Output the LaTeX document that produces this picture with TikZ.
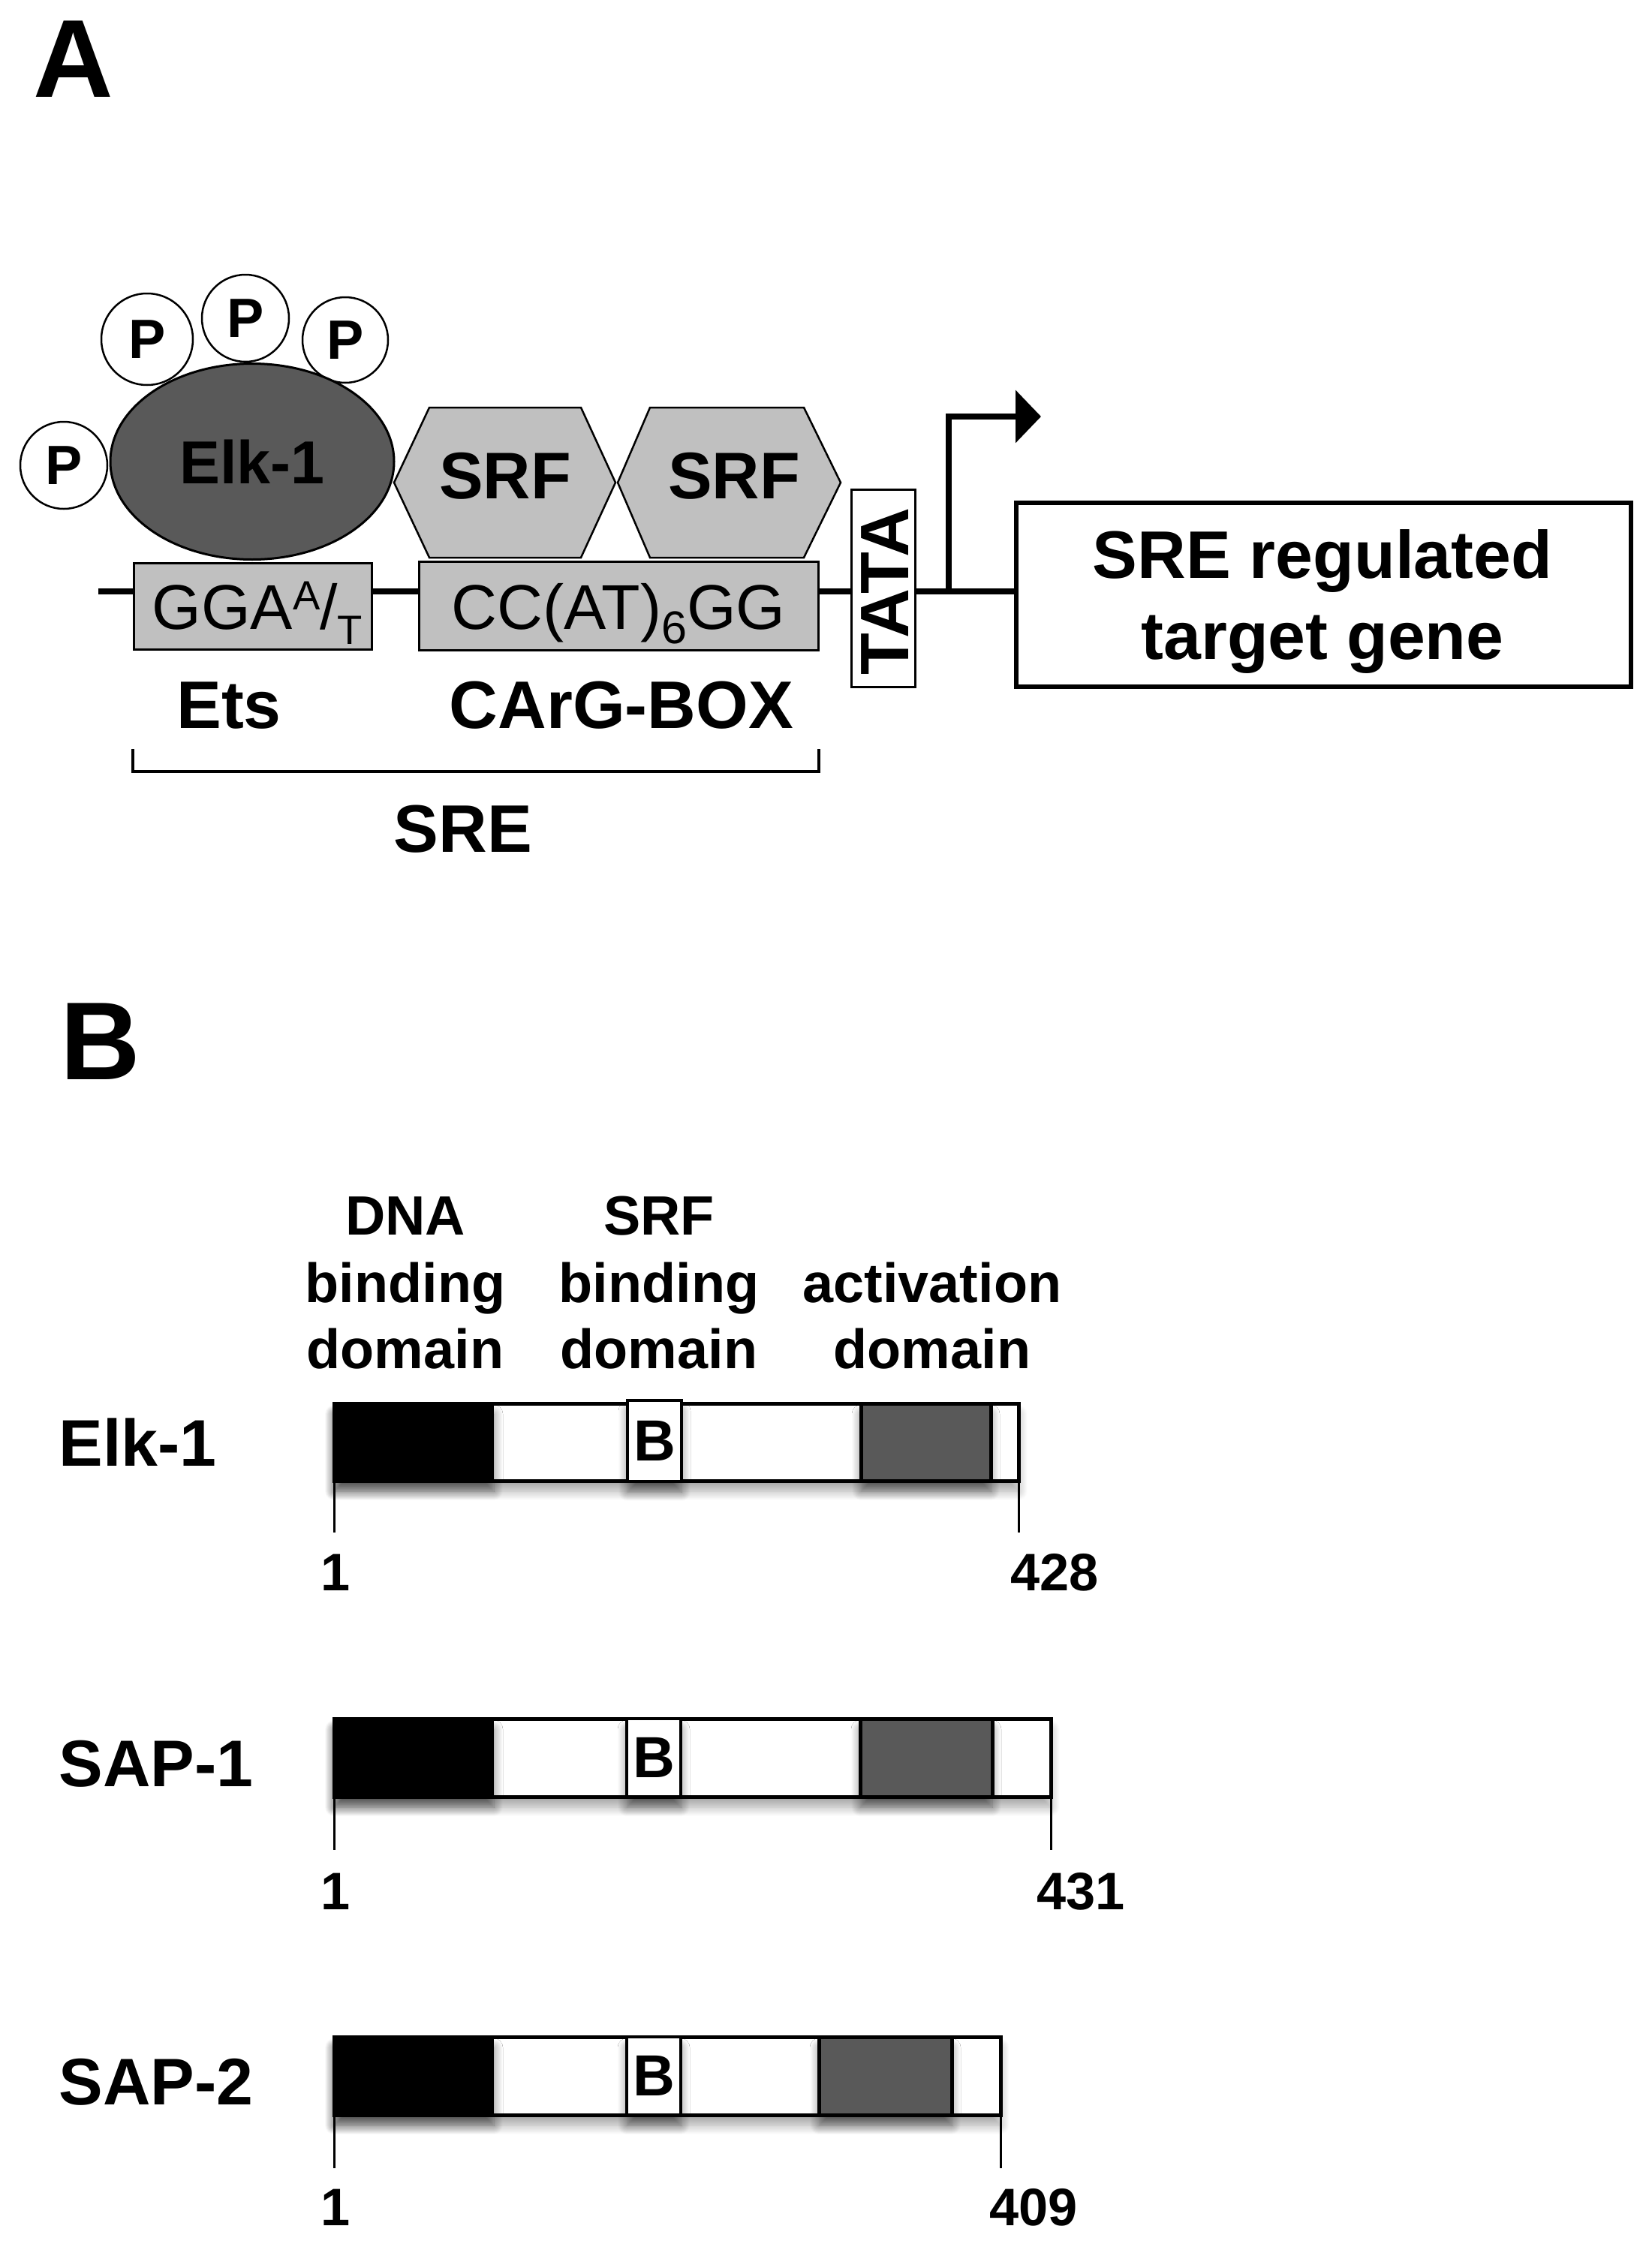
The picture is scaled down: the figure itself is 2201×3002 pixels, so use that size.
\documentclass[tikz,border=0pt]{standalone}
\usepackage{fontspec}
\setmainfont{Liberation Sans}
\usetikzlibrary{arrows.meta,shapes.geometric,shadows.blur}
\definecolor{dgray}{RGB}{89,89,89}
\definecolor{lgray}{RGB}{192,192,192}
\newcommand\fsz[1]{\fontsize{#1}{#1}\selectfont}
\begin{document}
\begin{tikzpicture}[x=0.1mm,y=-0.1mm,
  panel/.style={font=\fsz{42}\bfseries,anchor=base,inner sep=0},
  pcirc/.style={circle,draw,fill=white,line width=0.25mm,inner sep=0,font=\fsz{21}\bfseries},
  hexa/.style={draw,fill=lgray,line width=0.25mm},
  gbox/.style={draw,fill=lgray,line width=0.3mm,inner sep=0},
  seqtxt/.style={font=\fsz{24},anchor=base,inner sep=0},
  bigtxt/.style={font=\fsz{25.5}\bfseries,anchor=base,inner sep=0},
  dna/.style={line width=0.75mm},
  dom/.style={font=\fsz{21}\bfseries,anchor=base,inner sep=0},
  num/.style={font=\fsz{20}\bfseries,anchor=base,inner sep=0},
  prot/.style={font=\fsz{25}\bfseries,anchor=west,inner sep=0},
  barline/.style={line width=0.5mm},
  tick/.style={line width=0.3mm},
  bbox/.style={draw,fill=white,line width=0.45mm,inner sep=0,minimum width=7.2mm,font=\fsz{22}\bfseries},
  shad/.style={blur shadow={shadow xshift=0mm,shadow yshift=-1.4mm,shadow opacity=35,shadow blur steps=12,shadow blur radius=1.2mm}},
  shadk/.style={blur shadow={shadow xshift=0mm,shadow yshift=-1.4mm,shadow opacity=50,shadow blur steps=12,shadow blur radius=1.2mm}}
]
\useasboundingbox (0,0) rectangle (2201,3002);

% ---------------- Panel A ----------------
\node[panel] (labA) at (98,129) {A};

% DNA backbone
\coordinate (dnaL) at (131,788);
\node[draw,fill=white,line width=0.3mm,minimum width=8.5mm,minimum height=26.3mm,inner sep=0] (tata) at (1176.5,783.5) {};
\node[draw,line width=0.6mm,minimum width=81.9mm,minimum height=24.5mm,inner sep=0] (gene) at (1763.5,792.5) {};
\draw[dna] (dnaL) -- (dnaL -| tata.west);
\draw[dna] (dnaL -| tata.east) -- (dnaL -| gene.west);
\node[rotate=90,font=\fsz{26}\bfseries,inner sep=0] (tatatxt) at (1179,788) {TATA};

% transcription start arrow
\coordinate (tss) at (1264,788);
\coordinate (arrEnd) at (1387,555);
\draw[dna,-{Triangle[length=3.4mm,width=6.9mm]}] (tss) |- (arrEnd);

% gene text
\node[bigtxt] (gene1) at (1762,770) {SRE regulated};
\node[bigtxt] (gene2) at (1762,878) {target gene};

% sequence boxes
\node[gbox,minimum width=31.7mm,minimum height=11.5mm] (etsbox) at (336.5,807.5) {};
\node[gbox,minimum width=53.2mm,minimum height=11.8mm] (cargbox) at (824,807) {};
\node[seqtxt] (etsseq) at (343,838) {GGA\raisebox{2.6mm}{\fsz{15.5}A}/\raisebox{-2mm}{\fsz{15.5}T}};
\node[seqtxt] (cargseq) at (824,838) {CC(AT)\raisebox{-1.9mm}{\fsz{17.4}6}GG};

% phosphates
\node[pcirc,minimum size=11.6mm] (p1) at (85,620) {P};
\node[pcirc,minimum size=12.2mm] (p2) at (196,452) {P};
\node[pcirc,minimum size=11.6mm] (p3) at (327,424) {P};
\node[pcirc,minimum size=11.4mm] (p4) at (460,453) {P};

% Elk-1
\node[ellipse,draw,fill=dgray,line width=0.3mm,minimum width=37.8mm,minimum height=26.1mm,inner sep=0,font=\fsz{23}\bfseries] (elk) at (336,615) {Elk-1};

% SRF dimer
\draw[hexa] (572,543) -- (774,543) -- (820,643) -- (774,743) -- (572,743) -- (525,643) -- cycle;
\draw[hexa] (866,543) -- (1071,543) -- (1120,643) -- (1071,743) -- (866,743) -- (823,643) -- cycle;
\node[font=\fsz{25}\bfseries,inner sep=0] (srf1) at (673,634) {SRF};
\node[font=\fsz{25}\bfseries,inner sep=0] (srf2) at (978,634) {SRF};

% labels
\node[bigtxt] (ets) at (305,970) {Ets};
\node[bigtxt] (carg) at (828,970) {CArG-BOX};
\coordinate (brL) at (177,998);
\coordinate (brR) at (1091,998);
\draw[line width=0.45mm] (brL) -- ++(0,30) -| (brR);
\node[bigtxt] (sre) at (617,1135) {SRE};

% ---------------- Panel B ----------------
\node[panel] (labB) at (134,1438) {B};

\node[dom] (d1a) at (540,1645) {DNA};
\node[dom] (d1b) at (540,1735) {binding};
\node[dom] (d1c) at (540,1823) {domain};
\node[dom] (d2a) at (878,1645) {SRF};
\node[dom] (d2b) at (878,1735) {binding};
\node[dom] (d2c) at (878,1823) {domain};
\node[dom] (d3b) at (1242,1735) {activation};
\node[dom] (d3c) at (1242,1823) {domain};

% Elk-1 bar
\node[prot] (lelk) at (78,1922) {Elk-1};
\fill[white,shad] (445,1870) rectangle (1357,1973);
\fill[black,shadk] (445,1870) rectangle (658,1973);
\draw[barline,fill=dgray,shadk] (1147,1870) rectangle (1320,1973);
\draw[barline] (445,1870) rectangle (1357,1973);
\node[bbox,minimum height=10.8mm,shadk] (belk) at (872,1920) {B};
\draw[tick] (445,1973) -- (445,2042);
\draw[tick] (1357,1973) -- (1357,2042);
\node[num] (elk1) at (447,2119) {1};
\node[num] (elk428) at (1405,2119) {428};

% SAP-1 bar
\node[prot] (lsap1) at (78,2350) {SAP-1};
\fill[white,shad] (445,2290) rectangle (1400,2394);
\fill[black,shadk] (445,2290) rectangle (658,2394);
\draw[barline,fill=dgray,shadk] (1146,2290) rectangle (1322,2394);
\draw[barline] (445,2290) rectangle (1400,2394);
\node[bbox,minimum height=10.4mm,shadk] (bsap1) at (871,2342) {B};
\draw[tick] (445,2394) -- (445,2465);
\draw[tick] (1400,2394) -- (1400,2465);
\node[num] (sap1a) at (447,2544) {1};
\node[num] (sap1b) at (1440,2544) {431};

% SAP-2 bar
\node[prot] (lsap2) at (78,2774) {SAP-2};
\fill[white,shad] (445,2714) rectangle (1333,2818);
\fill[black,shadk] (445,2714) rectangle (658,2818);
\draw[barline,fill=dgray,shadk] (1091,2714) rectangle (1268,2818);
\draw[barline] (445,2714) rectangle (1333,2818);
\node[bbox,minimum height=10.4mm,shadk] (bsap2) at (871,2766) {B};
\draw[tick] (445,2818) -- (445,2889);
\draw[tick] (1333,2818) -- (1333,2889);
\node[num] (sap2a) at (447,2965) {1};
\node[num] (sap2b) at (1377,2965) {409};
\end{tikzpicture}
\end{document}
